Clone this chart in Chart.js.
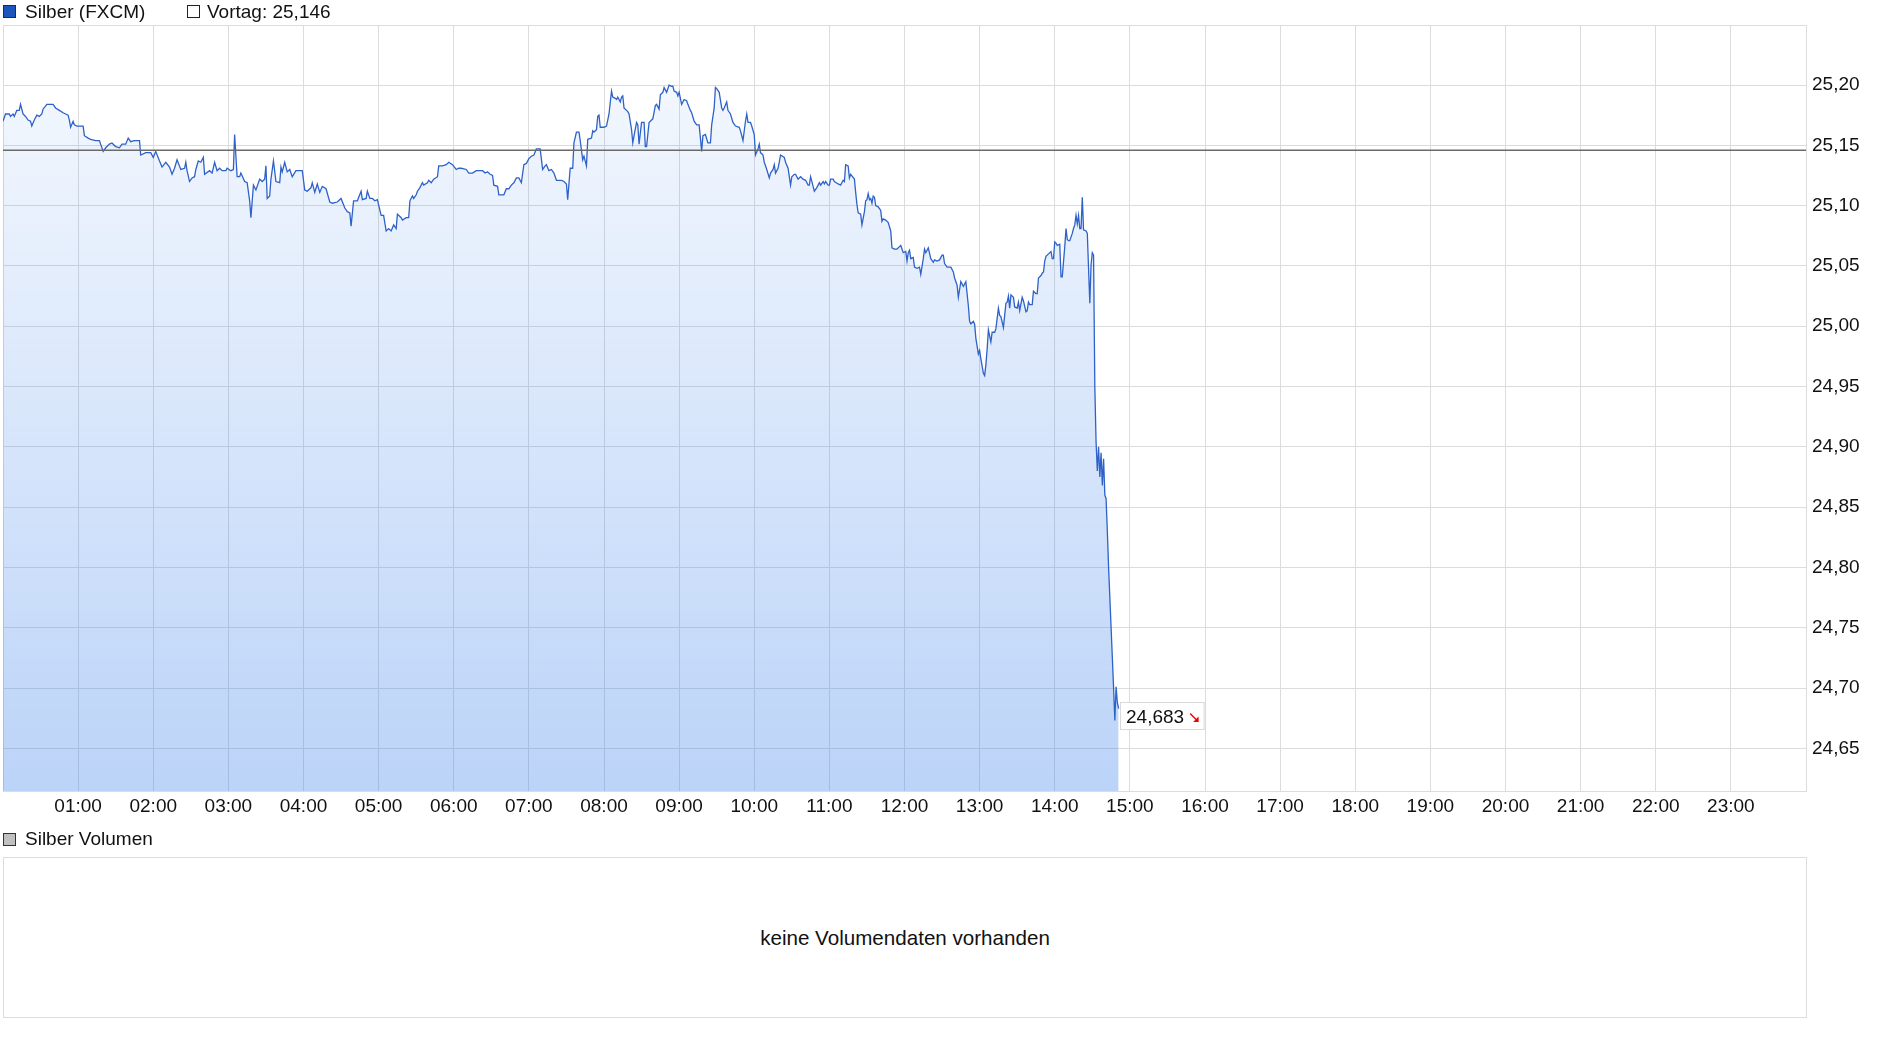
<!DOCTYPE html>
<html><head><meta charset="utf-8">
<script src="https://cdn.jsdelivr.net/npm/chart.js@4.4.1/dist/chart.umd.min.js"></script>
<style>
html,body{margin:0;padding:0;background:#fff;width:1880px;height:1037px;overflow:hidden;font-family:"Liberation Sans",Arial,sans-serif;color:#000;}
#wrap{position:relative;width:1880px;height:1037px;}
#c{position:absolute;left:0;top:0;}
.lg{position:absolute;font-size:19px;line-height:22px;white-space:nowrap;color:#111;}
.sq{position:absolute;width:13px;height:13px;box-sizing:border-box;border:1px solid #222;}
#volbox{position:absolute;left:3px;top:857px;width:1804px;height:161px;box-sizing:border-box;border:1px solid #dcdcdc;display:flex;align-items:center;justify-content:center;font-size:20.6px;color:#111;}
</style></head>
<body><div id="wrap">
<canvas id="c" width="1880" height="830"></canvas>
<div class="sq" style="left:3px;top:5px;background:#1c55bb;border-color:#1a2a55"></div>
<div class="lg" style="left:25px;top:1px">Silber (FXCM)</div>
<div class="sq" style="left:187px;top:5px;background:#fff;"></div>
<div class="lg" style="left:207px;top:1px" id="vortag"></div>
<div class="sq" style="left:3px;top:833px;background:#c0c0c0;border-color:#333"></div>
<div class="lg" style="left:25px;top:828px">Silber Volumen</div>
<div id="volbox">keine Volumendaten vorhanden</div>
</div>
<script>
// ---- data ----
const prevClose = 25.146;
const yTicks = [24.65,24.70,24.75,24.80,24.85,24.90,24.95,25.00,25.05,25.10,25.15,25.20];
const hourLabels = ['01:00','02:00','03:00','04:00','05:00','06:00','07:00','08:00','09:00','10:00','11:00','12:00','13:00','14:00','15:00','16:00','17:00','18:00','19:00','20:00','21:00','22:00','23:00'];
// [minute of day, price]
const quotes = [
[0,25.170],[2,25.176],[5,25.176],[6,25.174],[8,25.176],[9,25.174],[11,25.179],[13,25.179],[14,25.184],[16,25.176],[18,25.174],[20,25.171],[22,25.170],[23,25.166],[25,25.171],[27,25.175],[29,25.174],[31,25.176],[32,25.180],[35,25.184],[38,25.184],[40,25.184],[42,25.181],[45,25.179],[48,25.177],[50,25.176],[52,25.175],[53,25.171],[54,25.165],[56,25.170],[57,25.167],[59,25.166],
[62,25.166],[64,25.166],[65,25.158],[68,25.156],[70,25.155],[74,25.154],[77,25.154],[80,25.145],[82,25.148],[85,25.151],[87,25.152],[90,25.149],[93,25.148],[95,25.151],[98,25.151],[100,25.156],[102,25.153],[105,25.154],[109,25.154],[110,25.142],[114,25.144],[118,25.144],
[120,25.140],[122,25.145],[125,25.137],[127,25.132],[130,25.136],[133,25.132],[135,25.126],[137,25.131],[139,25.138],[142,25.130],[145,25.131],[146,25.136],[147,25.129],[149,25.120],[151,25.123],[153,25.124],[154,25.130],[156,25.137],[158,25.136],[160,25.140],[161,25.126],[165,25.129],[167,25.127],[169,25.136],[171,25.129],[173,25.131],[175,25.129],[178,25.129],[179,25.131],
[182,25.129],[184,25.130],[185,25.159],[187,25.124],[189,25.124],[190,25.127],[193,25.120],[195,25.119],[197,25.104],[198,25.090],[200,25.117],[202,25.113],[205,25.122],[207,25.120],[209,25.122],[210,25.133],[211,25.106],[213,25.108],[214,25.122],[216,25.137],[218,25.120],[221,25.119],[222,25.132],[223,25.128],[225,25.136],[227,25.128],[229,25.130],[231,25.124],[234,25.129],[235,25.129],[239,25.129],
[241,25.113],[243,25.112],[246,25.115],[247,25.119],[249,25.111],[251,25.118],[253,25.111],[255,25.116],[258,25.114],[261,25.103],[263,25.102],[267,25.103],[270,25.106],[273,25.098],[275,25.095],[277,25.094],[278,25.083],[280,25.104],[283,25.104],[286,25.112],[287,25.105],[290,25.106],[291,25.112],[293,25.106],[295,25.106],[297,25.104],[299,25.105],
[302,25.092],[304,25.092],[306,25.079],[308,25.081],[310,25.079],[312,25.084],[314,25.081],[315,25.093],[318,25.090],[319,25.088],[322,25.090],[324,25.090],[325,25.104],[327,25.108],[328,25.106],[330,25.109],[331,25.112],[333,25.115],[335,25.119],[336,25.117],[339,25.119],[340,25.121],[342,25.119],[344,25.122],[347,25.124],[348,25.133],[351,25.133],[354,25.134],[356,25.136],[359,25.134],
[362,25.130],[364,25.131],[366,25.131],[370,25.130],[372,25.127],[375,25.127],[378,25.129],[380,25.129],[383,25.129],[385,25.127],[387,25.128],[389,25.126],[391,25.125],[392,25.117],[395,25.116],[396,25.109],[400,25.109],[402,25.114],[404,25.114],[406,25.117],[408,25.119],[410,25.123],[412,25.123],[414,25.119],[416,25.134],[418,25.135],
[420,25.139],[422,25.141],[424,25.142],[426,25.147],[429,25.147],[431,25.130],[433,25.133],[434,25.134],[436,25.129],[438,25.130],[440,25.127],[442,25.121],[446,25.121],[448,25.120],[450,25.118],[451,25.105],[453,25.131],[455,25.131],[456,25.152],[458,25.161],[460,25.161],[461,25.154],[463,25.138],[464,25.141],[466,25.133],[467,25.155],[470,25.156],
[471,25.162],[472,25.161],[474,25.163],[475,25.174],[476,25.175],[477,25.165],[480,25.165],[482,25.166],[484,25.176],[486,25.195],[487,25.190],[489,25.189],[490,25.188],[491,25.190],[493,25.186],[494,25.190],[495,25.191],[496,25.181],[499,25.178],[500,25.176],[502,25.163],[503,25.152],[504,25.158],[506,25.169],[507,25.167],[508,25.151],[510,25.169],[512,25.169],[513,25.149],[514,25.149],[516,25.169],[518,25.171],[519,25.172],
[521,25.183],[522,25.184],[524,25.180],[525,25.192],[527,25.194],[528,25.198],[530,25.194],[532,25.200],[534,25.199],[535,25.199],[536,25.195],[538,25.194],[539,25.191],[540,25.194],[542,25.184],[544,25.188],[546,25.187],[547,25.184],[549,25.179],[550,25.177],[552,25.170],[554,25.167],[556,25.167],[558,25.145],[559,25.158],[561,25.159],[563,25.152],[565,25.152],[566,25.167],[568,25.181],[569,25.198],[570,25.197],[572,25.194],[574,25.181],[575,25.179],[576,25.181],[578,25.186],[579,25.179],
[581,25.176],[583,25.169],[585,25.166],[588,25.165],[589,25.162],[591,25.154],[593,25.170],[594,25.176],[595,25.169],[597,25.169],[598,25.166],[600,25.159],[601,25.142],[603,25.147],[604,25.151],[605,25.144],[607,25.142],[608,25.136],[610,25.130],[612,25.123],[613,25.127],[615,25.130],[616,25.134],[617,25.127],[619,25.131],[620,25.136],[621,25.142],[624,25.140],[625,25.136],[627,25.131],[629,25.117],[630,25.124],[632,25.126],[633,25.126],[635,25.122],[637,25.124],[639,25.122],
[641,25.121],[643,25.117],[644,25.117],[645,25.124],[647,25.116],[648,25.112],[650,25.115],[651,25.117],[652,25.119],[653,25.117],[655,25.120],[656,25.118],[657,25.120],[659,25.117],[660,25.117],[661,25.122],[663,25.122],[664,25.120],[667,25.118],[669,25.117],[671,25.121],[672,25.120],[673,25.134],[675,25.133],[676,25.123],[677,25.126],[680,25.122],[681,25.111],[682,25.101],[683,25.094],[685,25.093],[686,25.084],[688,25.095],[689,25.104],[690,25.105],[691,25.110],[692,25.105],[693,25.106],[694,25.102],[695,25.108],[696,25.107],[697,25.100],[699,25.099],
[701,25.096],[702,25.087],[703,25.089],[705,25.088],[707,25.086],[709,25.079],[710,25.065],[712,25.064],[714,25.064],[716,25.066],[717,25.067],[719,25.061],[721,25.062],[722,25.054],[723,25.061],[724,25.063],[725,25.056],[727,25.057],[728,25.049],[730,25.048],[732,25.049],[733,25.043],[735,25.056],[736,25.064],[737,25.061],[739,25.065],[741,25.056],[743,25.053],[744,25.055],[746,25.054],[748,25.055],[750,25.059],[751,25.059],[752,25.052],[754,25.049],[757,25.049],[759,25.045],
[760,25.040],[762,25.034],[763,25.024],[765,25.037],[767,25.033],[768,25.035],[769,25.037],[771,25.017],[772,25.004],[773,25.002],[775,25.004],[776,25.002],[777,24.990],[779,24.977],[780,24.980],[781,24.973],[783,24.961],[784,24.959],[785,24.968],[786,24.981],[787,24.997],[789,24.987],[790,24.995],[792,24.995],[793,24.998],[795,25.015],[796,25.009],[797,25.008],[799,24.999],
[801,25.019],[802,25.020],[803,25.025],[804,25.015],[805,25.026],[807,25.024],[808,25.016],[810,25.015],[811,25.020],[812,25.013],[814,25.024],[815,25.021],[817,25.012],[818,25.013],[819,25.020],[820,25.018],[822,25.018],[823,25.029],[825,25.027],[826,25.027],[827,25.040],[829,25.042],[830,25.044],[831,25.045],[832,25.054],[833,25.058],[835,25.060],[837,25.062],[838,25.056],[839,25.056],
[840,25.070],[841,25.069],[842,25.067],[844,25.068],[845,25.041],[846,25.041],[848,25.066],[849,25.081],[850,25.072],[851,25.071],[852,25.071],[854,25.077],[855,25.081],[856,25.084],[857,25.092],[858,25.085],[859,25.092],[860,25.081],[861,25.081],[862,25.107],[863,25.080],[865,25.079],[866,25.077],[867,25.048],[868,25.019],[869,25.051],[870,25.061],[871,25.059],
[872,24.950],[873,24.904],[874,24.880],[875,24.900],[876,24.875],[877,24.895],[878,24.868],[879,24.890],[880,24.860],[881,24.857],[882,24.830],[883,24.800],[885,24.750],[887,24.700],[888,24.673],[889,24.701],[890,24.688],[891,24.683]
];
// ---- end data ----

const FONT = '"Liberation Sans", Arial, sans-serif';
const fmt = (v, d) => v.toFixed(d).replace('.', ',');
document.getElementById('vortag').textContent = 'Vortag: ' + fmt(prevClose, 3);

Chart.defaults.font.family = FONT;
Chart.defaults.font.size = 19;
Chart.defaults.color = '#111';

const framePlugin = {
  id: 'frame',
  beforeDatasetsDraw(chart) {
    const {ctx, chartArea: a} = chart;
    ctx.save();
    ctx.strokeStyle = '#dcdcdc';
    ctx.lineWidth = 1;
    ctx.strokeRect(Math.round(a.left) + 0.5, Math.round(a.top) + 0.5, Math.round(a.right - a.left), Math.round(a.bottom - a.top));
    ctx.restore();
  }
};

const lastLabelPlugin = {
  id: 'lastLabel',
  afterDatasetsDraw(chart) {
    const meta = chart.getDatasetMeta(1);
    const pt = meta.data[meta.data.length - 1];
    const lastVal = quotes[quotes.length - 1][1];
    const {ctx} = chart;
    ctx.save();
    ctx.font = '19px ' + FONT;
    const txt = fmt(lastVal, 3);
    const tw = ctx.measureText(txt).width;
    const bx = Math.round(pt.x + 1) + 0.5, by = Math.round(pt.y - 7) + 0.5;
    const bw = 5.5 + tw + 6 + 9 + 5, bh = 27;
    ctx.fillStyle = '#fff';
    ctx.fillRect(bx, by, bw, bh);
    ctx.strokeStyle = '#d9d9d9';
    ctx.lineWidth = 1;
    ctx.strokeRect(bx, by, bw, bh);
    ctx.fillStyle = '#111';
    ctx.textBaseline = 'alphabetic';
    ctx.textAlign = 'left';
    ctx.fillText(txt, bx + 5.5, by + 20.5);
    const ax = bx + 5.5 + tw + 6, ay = by + 11;
    ctx.strokeStyle = '#e00';
    ctx.fillStyle = '#e00';
    ctx.lineWidth = 1.4;
    ctx.beginPath();
    if (lastVal <= prevClose) {
      ctx.moveTo(ax, ay); ctx.lineTo(ax + 6, ay + 6); ctx.stroke();
      ctx.beginPath(); ctx.moveTo(ax + 8.5, ay + 8.5); ctx.lineTo(ax + 8.5, ay + 3); ctx.lineTo(ax + 3, ay + 8.5); ctx.closePath(); ctx.fill();
    } else {
      ctx.moveTo(ax, ay + 8.5); ctx.lineTo(ax + 6, ay + 2.5); ctx.stroke();
      ctx.beginPath(); ctx.moveTo(ax + 8.5, ay); ctx.lineTo(ax + 3, ay); ctx.lineTo(ax + 8.5, ay + 5.5); ctx.closePath(); ctx.fill();
    }
    ctx.restore();
  }
};

const ctx = document.getElementById('c').getContext('2d');
new Chart(ctx, {
  type: 'line',
  data: {
    datasets: [
      {
        label: 'Vortag',
        data: [{x: 0, y: prevClose}, {x: 1440, y: prevClose}],
        borderColor: '#6a6a6a',
        borderWidth: 1.5,
        pointRadius: 0,
        fill: false
      },
      {
        label: 'Silber (FXCM)',
        data: quotes.map(q => ({x: q[0], y: q[1]})),
        borderColor: '#2e62c9',
        borderWidth: 1.3,
        pointRadius: 0,
        tension: 0,
        fill: 'start',
        backgroundColor: (c) => {
          const a = c.chart.chartArea;
          if (!a) return 'rgba(60,130,235,0.2)';
          const g = c.chart.ctx.createLinearGradient(0, a.top, 0, a.bottom);
          g.addColorStop(0, 'rgba(60,130,235,0.04)');
          g.addColorStop(1, 'rgba(60,130,235,0.35)');
          return g;
        }
      }
    ]
  },
  options: {
    responsive: false,
    animation: false,
    devicePixelRatio: 1,
    layout: {padding: {left: 3, top: 25, right: 0, bottom: 0}},
    plugins: {legend: {display: false}, tooltip: {enabled: false}},
    scales: {
      x: {
        type: 'linear',
        min: 0, max: 1440,
        afterBuildTicks: (s) => { s.ticks = hourLabels.map((l, i) => ({value: (i + 1) * 60})); },
        afterFit: (s) => { s.height = 39; },
        ticks: {
          autoSkip: false, maxRotation: 0, padding: 4, color: '#111',
          callback: (v) => hourLabels[Math.round(v / 60) - 1] || ''
        },
        grid: {color: '#dcdcdc', lineWidth: 1, drawTicks: false},
        border: {display: false}
      },
      y: {
        type: 'linear',
        position: 'right',
        min: 24.6146, max: 25.2498,
        afterBuildTicks: (s) => { s.ticks = yTicks.map(v => ({value: v})); },
        afterFit: (s) => { s.width = 74; },
        ticks: {padding: 6, color: '#111', callback: (v) => fmt(v, 2)},
        grid: {color: '#dcdcdc', lineWidth: 1, drawTicks: false},
        border: {display: false}
      }
    }
  },
  plugins: [framePlugin, lastLabelPlugin]
});
</script>
</body></html>
